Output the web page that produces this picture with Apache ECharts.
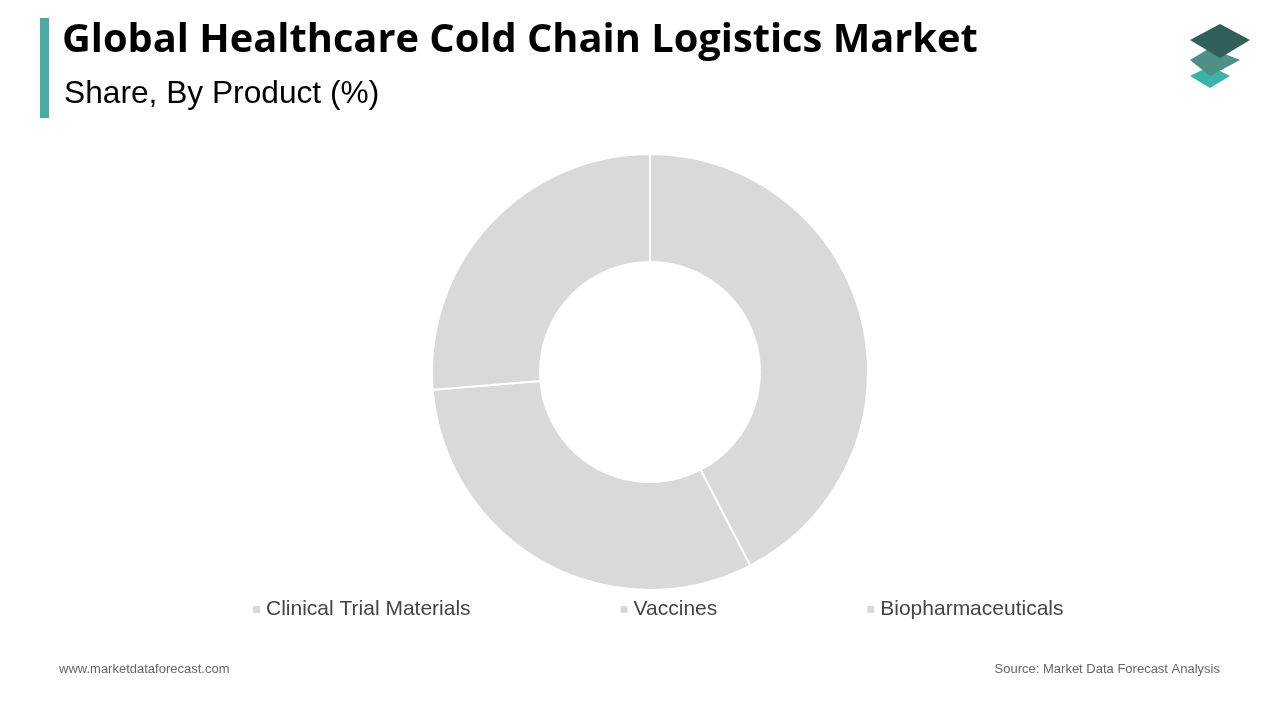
<!DOCTYPE html>
<html><head><meta charset="utf-8">
<script src="https://cdn.jsdelivr.net/npm/echarts@6/dist/echarts.min.js"></script>
<style>html,body{margin:0;padding:0;background:#fff}#c{width:1280px;height:720px}</style>
</head><body><div id="c"></div>
<script>
const categories = ["Clinical Trial Materials", "Vaccines", "Biopharmaceuticals"];
const shares = [42.4, 31.3, 26.3];
const colors = ["#d9d9d9", "#d9d9d9", "#d9d9d9"];
const chart = echarts.init(document.getElementById('c'));
chart.setOption({
  animation: false,
  graphic: [
    {type:'rect', shape:{x:40,y:18,width:9,height:100}, style:{fill:'#4aaaa5'}},
    {type:'text', left:62, top:21, style:{text:'Global Healthcare Cold Chain Logistics Market', font:'bold 39.8px "Open Sans", sans-serif', fill:'#000'}},
    {type:'text', left:64, top:78, style:{text:'Share, By Product (%)', font:'31.7px "Liberation Sans", Arial, sans-serif', fill:'#000'}},
    {type:'polygon', shape:{points:[[1190,76],[1210,66],[1230,76],[1210,88]]}, style:{fill:'#3bb3a8'}},
    {type:'polygon', shape:{points:[[1190,60],[1210,48],[1240,60],[1210,76]]}, style:{fill:'#4e8f86'}},
    {type:'polygon', shape:{points:[[1190,40],[1220,24],[1250,40],[1220,58]]}, style:{fill:'#2f5f58'}},
    {type:'text', left:59, top:663, style:{text:'www.marketdataforecast.com', font:'13px "Liberation Sans", Arial, sans-serif', fill:'#666'}},
    {type:'text', right:60, top:663, style:{text:'Source: Market Data Forecast Analysis', font:'13px "Liberation Sans", Arial, sans-serif', fill:'#666'}}
  ],
  legend: {
    top: 594, left: 246, itemGap: 148, itemWidth: 9, itemHeight: 9, icon: 'rect',
    textStyle: {fontSize: 21, color: '#444', fontFamily: '"Liberation Sans", Arial, sans-serif'},
    data: categories
  },
  series: [{
    type: 'pie', center: [650, 372], radius: [110, 218], startAngle: 90, clockwise: true,
    label: {show: false}, labelLine: {show: false},
    itemStyle: {borderColor: '#fff', borderWidth: 2},
    emphasis: {disabled: true},
    data: categories.map((n, i) => ({name: n, value: shares[i], itemStyle: {color: colors[i]}}))
  }]
});
</script></body></html>
